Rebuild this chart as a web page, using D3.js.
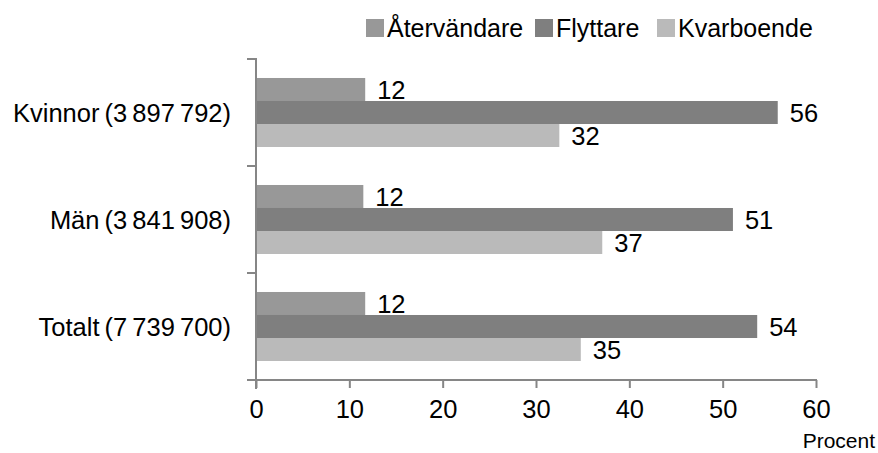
<!DOCTYPE html>
<html><head><meta charset="utf-8">
<script src="https://cdn.jsdelivr.net/npm/d3@7"></script>
<style>
html,body{margin:0;padding:0;background:#fff;}
svg{display:block;font-family:"Liberation Sans",Arial,sans-serif;}
</style></head><body>
<svg id="chart" width="878" height="453"></svg>
<script>
const categories = ["Kvinnor (3 897 792)", "Män (3 841 908)", "Totalt (7 739 700)"];
const seriesNames = ["Återvändare", "Flyttare", "Kvarboende"];
const aterv = [11.7, 11.5, 11.7];
const flyttare = [55.9, 51.1, 53.7];
const kvarboende = [32.5, 37.1, 34.8];
const labels = [["12","56","32"],["12","51","37"],["12","54","35"]];
const xTicks = [0,10,20,30,40,50,60];
const colors = ["#989898","#7f7f7f","#bababa"];

const values = [aterv, flyttare, kvarboende];
const svg = d3.select("#chart");
const axisColor = "#868686";

const x = d3.scaleLinear().domain([0,60]).range([256,816]);
const y = d3.scaleBand().domain(categories).range([59,380]).padding(0);
const bw = y.bandwidth();
const groupH = bw*0.645;
const inner = d3.scaleBand().domain(seriesNames).range([(bw-groupH)/2,(bw+groupH)/2]).padding(0);

categories.forEach((c,ci)=>{
  const g = svg.append("g").attr("transform",`translate(0,${y(c)})`);
  seriesNames.forEach((s,si)=>{
    const v = values[si][ci];
    g.append("rect").attr("x",x(0)).attr("y",inner(s)).attr("width",x(v)-x(0)).attr("height",inner.bandwidth())
      .attr("fill",colors[si]);
    g.append("text").attr("x",x(v)+12).attr("y",inner(s)+inner.bandwidth()/2).attr("dy","0.36em")
      .attr("font-size",25.5).attr("fill","#000").text(labels[ci][si]);
  });
});

// x axis
const xAxis = d3.axisBottom(x).tickValues(xTicks).tickSize(8).tickPadding(12).tickSizeOuter(0);
const xg = svg.append("g").attr("transform","translate(0,380)").call(xAxis);
xg.select(".domain").remove();
xg.selectAll(".tick line").attr("stroke",axisColor).attr("stroke-width",2);
xg.selectAll(".tick text").attr("font-size",25.5).attr("fill","#000").attr("font-family","Liberation Sans, Arial, sans-serif");
svg.append("line").attr("x1",247).attr("x2",x(60)+1).attr("y1",380).attr("y2",380).attr("stroke",axisColor).attr("stroke-width",2);

// y axis
svg.append("line").attr("x1",x(0)).attr("x2",x(0)).attr("y1",58).attr("y2",389).attr("stroke",axisColor).attr("stroke-width",2);
const bounds = categories.map(c=>y(c)).concat([y(categories[categories.length-1])+bw]);
bounds.forEach(b=>{
  svg.append("line").attr("x1",247).attr("x2",x(0)).attr("y1",b).attr("y2",b).attr("stroke",axisColor).attr("stroke-width",2);
});
categories.forEach(c=>{
  svg.append("text").attr("x",231).attr("y",y(c)+bw/2).attr("dy","0.36em").attr("text-anchor","end")
    .attr("font-size",25.5).attr("word-spacing",-2).attr("fill","#000").text(c);
});

// Procent
svg.append("text").attr("x",875).attr("y",448).attr("text-anchor","end").attr("font-size",21).attr("fill","#000").text("Procent");

// legend
const legX = [366, 535, 657];
seriesNames.forEach((s,i)=>{
  svg.append("rect").attr("x",legX[i]).attr("y",19).attr("width",18).attr("height",18).attr("fill",colors[i]);
  svg.append("text").attr("x",legX[i]+21).attr("y",37).attr("font-size",25).attr("fill","#000").text(s);
});
</script>
</body></html>
